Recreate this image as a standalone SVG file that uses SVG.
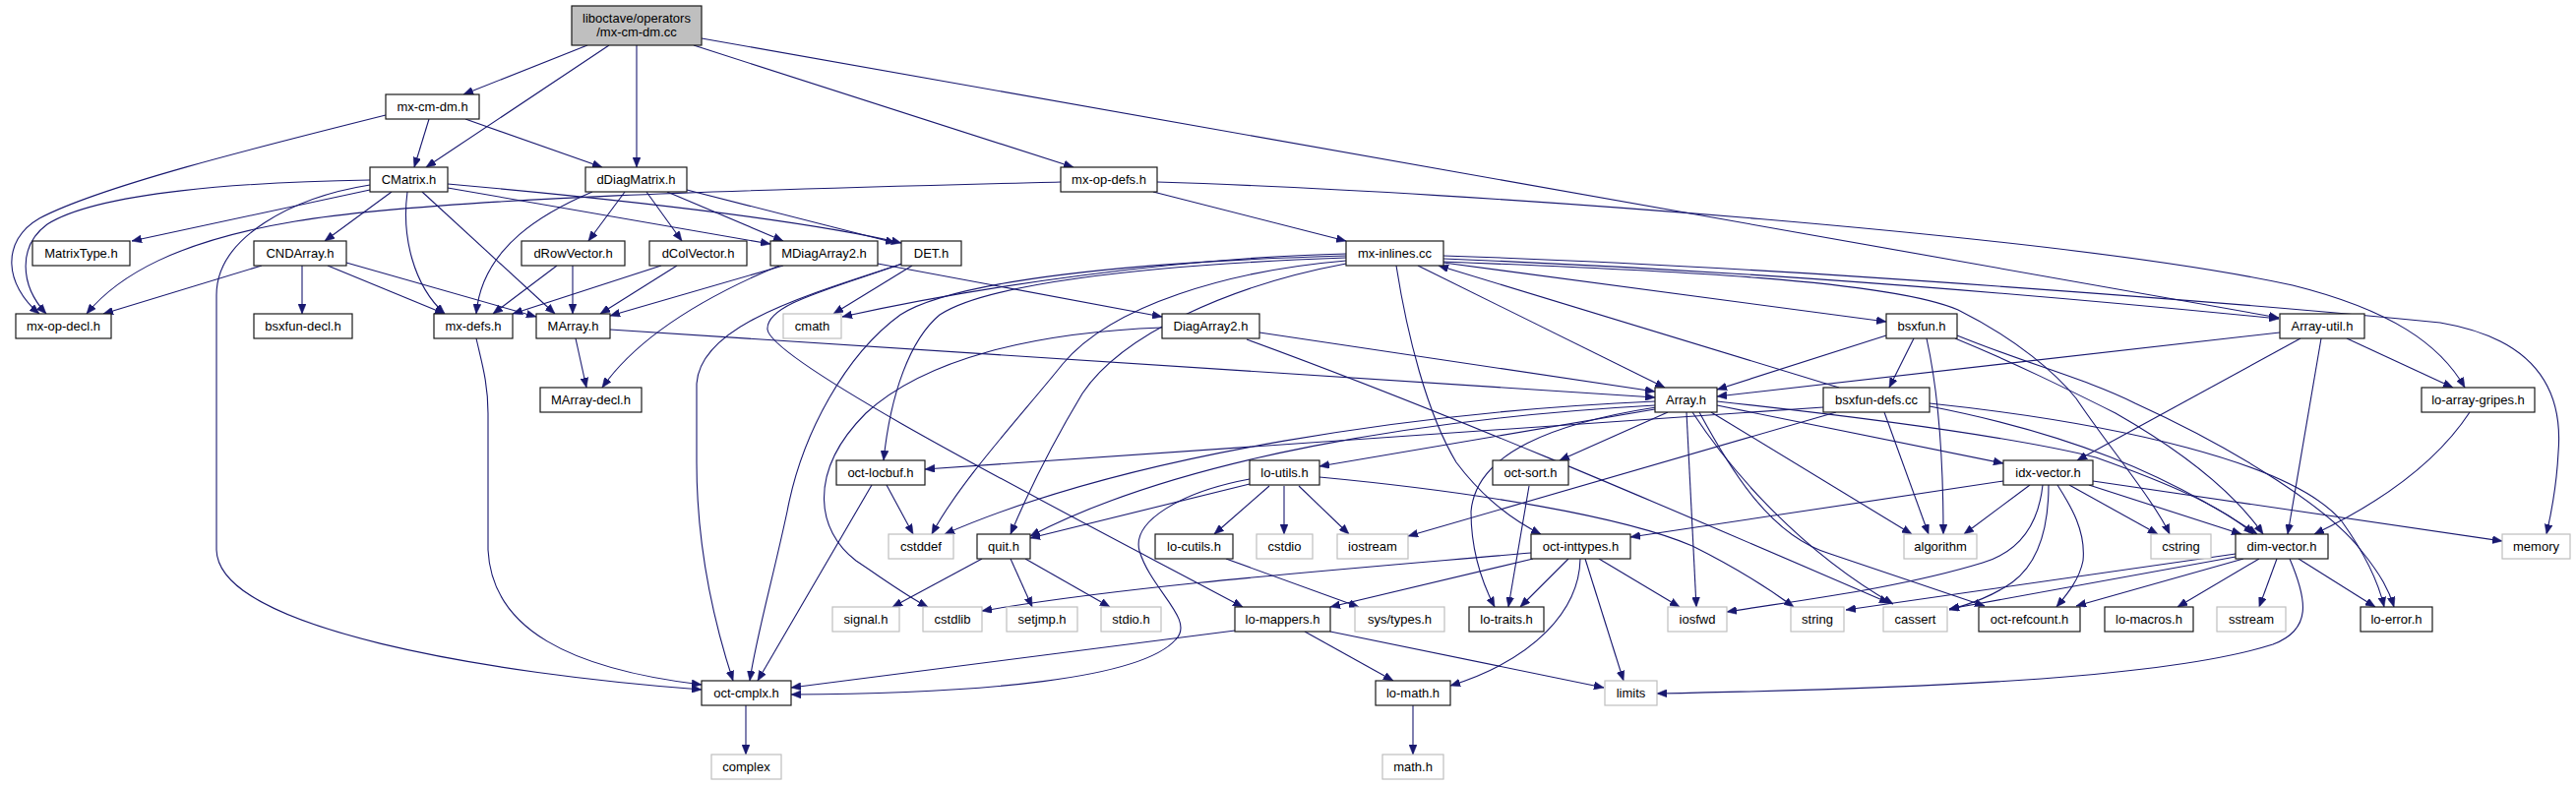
<svg xmlns="http://www.w3.org/2000/svg" width="2618" height="799" viewBox="0 0 2618 799">
<defs>
<style>
.e{fill:none;stroke:#191970;stroke-width:1.1;marker-end:url(#a)}
.n rect{fill:#fff;stroke:#1a1a1a;stroke-width:1.2}
.g rect{fill:#fff;stroke:#bfbfbf;stroke-width:1.2}
.r rect{fill:#bfbfbf;stroke:#1a1a1a;stroke-width:1.2}
text{font-family:"Liberation Sans",Arial,sans-serif;font-size:13px;text-anchor:middle;fill:#000}
</style>
<marker id="a" markerWidth="10" markerHeight="8" refX="10" refY="4" orient="auto" markerUnits="userSpaceOnUse"><path d="M0,0 L10,4 L0,8 z" fill="#191970" stroke="#191970" stroke-width="0.5"/></marker>
</defs>
<rect width="2618" height="799" fill="#fff"/>
<g id="edges">
<path class="e" d="M597,46 L471,96"/>
<path class="e" d="M619,46 L433,170"/>
<path class="e" d="M647,46 L647,170"/>
<path class="e" d="M705,46 L1091,170"/>
<path class="e" d="M713,39 L2316,323"/>
<path class="e" d="M392,117 C260,150 100,190 40,222 C0,245 5,290 40,319"/>
<path class="e" d="M436,121 L421,170"/>
<path class="e" d="M473,121 L612,170"/>
<path class="e" d="M376,183 C250,185 100,195 48,228 C18,250 20,290 47,319"/>
<path class="e" d="M376,193 L134,245"/>
<path class="e" d="M376,188 C300,200 220,240 220,300 L220,559 C222,640 500,685 713,701"/>
<path class="e" d="M398,195 L330,245"/>
<path class="e" d="M414,195 C408,240 420,290 452,319"/>
<path class="e" d="M429,195 L564,319"/>
<path class="e" d="M455,191 L783,248"/>
<path class="e" d="M455,187 C600,200 800,220 916,247"/>
<path class="e" d="M1078,185 C800,192 450,200 300,225 C180,245 120,280 88,319"/>
<path class="e" d="M602,195 C555,215 490,250 484,319"/>
<path class="e" d="M635,195 L598,245"/>
<path class="e" d="M657,195 L693,245"/>
<path class="e" d="M678,195 L796,245"/>
<path class="e" d="M698,193 L910,247"/>
<path class="e" d="M566,270 L501,319"/>
<path class="e" d="M582,270 L582,319"/>
<path class="e" d="M672,270 L521,319"/>
<path class="e" d="M688,270 L610,319"/>
<path class="e" d="M796,270 L620,321"/>
<path class="e" d="M792,270 C720,300 650,340 612,394"/>
<path class="e" d="M892,268 L1181,322"/>
<path class="e" d="M927,270 L847,319"/>
<path class="e" d="M917,268 C820,300 712,330 708,390 L708,470 C708,560 728,640 745,692"/>
<path class="e" d="M917,268 C840,295 778,310 780,335 C785,370 1100,530 1263,617"/>
<path class="e" d="M585,344 L596,394"/>
<path class="e" d="M620,335 L1682,404"/>
<path class="e" d="M484,344 C490,370 496,390 496,420 L496,559 C500,640 580,680 713,696"/>
<path class="e" d="M266,270 L105,319"/>
<path class="e" d="M307,270 L307,319"/>
<path class="e" d="M333,270 L452,319"/>
<path class="e" d="M352,267 L545,322"/>
<path class="e" d="M1172,195 L1368,245"/>
<path class="e" d="M1176,185 C1500,195 2100,240 2330,290 C2430,315 2480,350 2505,394"/>
<path class="e" d="M1368,258 C1200,262 1000,290 856,322"/>
<path class="e" d="M1368,260 C1150,266 970,285 915,320 C860,360 815,440 800,520 C785,590 768,650 762,692"/>
<path class="e" d="M1368,262 C1150,270 1000,290 955,320 C925,345 905,400 898,468"/>
<path class="e" d="M1368,265 C1250,275 1130,310 1080,370 C1040,420 975,490 947,543"/>
<path class="e" d="M1368,268 C1250,290 1140,340 1100,400 C1070,450 1045,500 1027,543"/>
<path class="e" d="M1441,270 L1692,394"/>
<path class="e" d="M1419,270 C1430,340 1450,420 1480,470 C1510,510 1540,530 1566,543"/>
<path class="e" d="M1467,267 L1917,327"/>
<path class="e" d="M1467,263 C1700,272 1950,288 2316,324"/>
<path class="e" d="M1467,260 C1800,270 2300,310 2480,328 C2580,345 2605,400 2600,460 C2598,500 2592,525 2588,543"/>
<path class="e" d="M1467,266 C1700,275 1920,285 1990,315 C2050,345 2090,380 2110,405 C2140,450 2190,510 2205,543"/>
<path class="e" d="M1869,394 L1462,270"/>
<path class="e" d="M1853,414 L940,477"/>
<path class="e" d="M1866,419 L1431,545"/>
<path class="e" d="M1915,419 L1960,543"/>
<path class="e" d="M1961,413 C2100,440 2200,480 2294,543"/>
<path class="e" d="M1961,410 C2150,430 2330,470 2380,530 C2405,565 2418,595 2423,617"/>
<path class="e" d="M1917,341 L1745,396"/>
<path class="e" d="M1945,344 L1920,394"/>
<path class="e" d="M1958,344 C1966,380 1975,440 1975,543"/>
<path class="e" d="M1987,344 C2050,370 2100,395 2150,420 C2220,460 2270,500 2300,543"/>
<path class="e" d="M1989,341 C2060,370 2120,385 2170,410 C2280,460 2370,520 2400,560 C2420,585 2428,600 2433,617"/>
<path class="e" d="M2317,338 L1745,403"/>
<path class="e" d="M2338,344 L2111,468"/>
<path class="e" d="M2359,344 L2325,543"/>
<path class="e" d="M2385,344 L2493,394"/>
<path class="e" d="M1280,338 L1682,398"/>
<path class="e" d="M1267,345 C1500,430 1750,540 1920,613"/>
<path class="e" d="M1181,333 C1050,338 940,365 880,420 C820,480 830,540 870,570 C900,590 920,605 943,617"/>
<path class="e" d="M1682,408 C1450,418 1150,460 960,543"/>
<path class="e" d="M1682,412 C1450,425 1200,465 1047,545"/>
<path class="e" d="M1682,416 L1341,474"/>
<path class="e" d="M1695,419 L1585,468"/>
<path class="e" d="M1683,414 C1580,430 1500,460 1495,520 C1495,560 1505,590 1519,617"/>
<path class="e" d="M1714,419 L1724,617"/>
<path class="e" d="M1720,419 C1760,480 1830,560 1924,614"/>
<path class="e" d="M1727,419 C1760,480 1800,545 1860,563 L2017,616"/>
<path class="e" d="M1739,419 L1943,543"/>
<path class="e" d="M1745,412 L2036,471"/>
<path class="e" d="M1745,408 C1900,425 2050,445 2130,465 C2200,490 2260,515 2290,543"/>
<path class="e" d="M1554,494 L1533,617"/>
<path class="e" d="M1556,562 C1350,580 1150,595 998,621"/>
<path class="e" d="M1558,568 L1352,617"/>
<path class="e" d="M1594,568 L1545,617"/>
<path class="e" d="M1606,568 C1605,620 1560,670 1474,697"/>
<path class="e" d="M1611,568 L1650,692"/>
<path class="e" d="M1625,568 L1707,617"/>
<path class="e" d="M1270,492 L1047,547"/>
<path class="e" d="M1270,487 C1200,500 1150,530 1158,560 C1170,600 1215,630 1195,650 C1160,690 1000,705 804,706"/>
<path class="e" d="M1290,494 L1234,543"/>
<path class="e" d="M1305,494 L1305,543"/>
<path class="e" d="M1320,494 L1371,543"/>
<path class="e" d="M1341,485 C1500,500 1650,525 1720,555 C1770,580 1800,600 1823,617"/>
<path class="e" d="M1246,568 L1381,617"/>
<path class="e" d="M998,568 L907,617"/>
<path class="e" d="M1027,568 L1049,617"/>
<path class="e" d="M1042,568 L1128,617"/>
<path class="e" d="M901,493 L928,543"/>
<path class="e" d="M886,493 L770,692"/>
<path class="e" d="M1255,641 L804,699"/>
<path class="e" d="M1326,642 L1416,692"/>
<path class="e" d="M1352,642 L1630,699"/>
<path class="e" d="M1436,717 L1436,767"/>
<path class="e" d="M758,717 L758,767"/>
<path class="e" d="M2036,489 L1657,546"/>
<path class="e" d="M2063,493 L1996,543"/>
<path class="e" d="M2076,493 C2072,530 2055,560 2015,572 C1930,598 1830,610 1755,622"/>
<path class="e" d="M2082,493 C2082,530 2075,570 2045,592 C2025,606 2005,613 1981,620"/>
<path class="e" d="M2091,493 C2105,515 2120,540 2117,570 C2113,590 2100,605 2090,617"/>
<path class="e" d="M2103,493 L2193,543"/>
<path class="e" d="M2123,493 L2278,543"/>
<path class="e" d="M2127,489 L2543,550"/>
<path class="e" d="M2327,568 C2345,610 2350,640 2310,655 C2200,690 1950,700 1684,705"/>
<path class="e" d="M2336,568 L2414,617"/>
<path class="e" d="M2314,568 L2296,617"/>
<path class="e" d="M2296,568 L2213,617"/>
<path class="e" d="M2280,568 L2110,616"/>
<path class="e" d="M2272,566 L1981,619"/>
<path class="e" d="M2272,563 L1876,620"/>
<path class="e" d="M2510,419 C2470,480 2400,520 2352,543"/>
</g>
<g id="n_root" class="r"><rect x="581" y="6" width="132" height="40"/><text x="647" y="22.5">liboctave/operators</text><text x="647" y="36.5">/mx-cm-dm.cc</text></g>
<g id="n_mxcmdmh" class="n"><rect x="392" y="96" width="95" height="25"/><text x="439.5" y="113">mx-cm-dm.h</text></g>
<g id="n_CMatrix" class="n"><rect x="376" y="170" width="79" height="25"/><text x="415.5" y="187">CMatrix.h</text></g>
<g id="n_dDiagMatrix" class="n"><rect x="595" y="170" width="103" height="25"/><text x="646.5" y="187">dDiagMatrix.h</text></g>
<g id="n_mxopdefs" class="n"><rect x="1078" y="170" width="98" height="25"/><text x="1127" y="187">mx-op-defs.h</text></g>
<g id="n_MatrixType" class="n"><rect x="33" y="245" width="99" height="25"/><text x="82.5" y="262">MatrixType.h</text></g>
<g id="n_CNDArray" class="n"><rect x="258" y="245" width="94" height="25"/><text x="305" y="262">CNDArray.h</text></g>
<g id="n_dRowVector" class="n"><rect x="530" y="245" width="105" height="25"/><text x="582.5" y="262">dRowVector.h</text></g>
<g id="n_dColVector" class="n"><rect x="660" y="245" width="99" height="25"/><text x="709.5" y="262">dColVector.h</text></g>
<g id="n_MDiagArray2" class="n"><rect x="783" y="245" width="109" height="25"/><text x="837.5" y="262">MDiagArray2.h</text></g>
<g id="n_DET" class="n"><rect x="916" y="245" width="61" height="25"/><text x="946.5" y="262">DET.h</text></g>
<g id="n_mxinlines" class="n"><rect x="1368" y="245" width="99" height="25"/><text x="1417.5" y="262">mx-inlines.cc</text></g>
<g id="n_mxopdecl" class="n"><rect x="16" y="319" width="97" height="25"/><text x="64.5" y="336">mx-op-decl.h</text></g>
<g id="n_bsxfundecl" class="n"><rect x="258" y="319" width="100" height="25"/><text x="308" y="336">bsxfun-decl.h</text></g>
<g id="n_mxdefs" class="n"><rect x="441" y="319" width="80" height="25"/><text x="481" y="336">mx-defs.h</text></g>
<g id="n_MArray" class="n"><rect x="545" y="319" width="75" height="25"/><text x="582.5" y="336">MArray.h</text></g>
<g id="n_cmath" class="g"><rect x="796" y="319" width="59" height="25"/><text x="825.5" y="336">cmath</text></g>
<g id="n_DiagArray2" class="n"><rect x="1181" y="319" width="99" height="25"/><text x="1230.5" y="336">DiagArray2.h</text></g>
<g id="n_bsxfun" class="n"><rect x="1917" y="319" width="72" height="25"/><text x="1953" y="336">bsxfun.h</text></g>
<g id="n_Arrayutil" class="n"><rect x="2317" y="319" width="86" height="25"/><text x="2360" y="336">Array-util.h</text></g>
<g id="n_MArraydecl" class="n"><rect x="549" y="394" width="103" height="25"/><text x="600.5" y="411">MArray-decl.h</text></g>
<g id="n_Array" class="n"><rect x="1682" y="394" width="63" height="25"/><text x="1713.5" y="411">Array.h</text></g>
<g id="n_bsxfundefs" class="n"><rect x="1853" y="394" width="108" height="25"/><text x="1907" y="411">bsxfun-defs.cc</text></g>
<g id="n_loarraygripes" class="n"><rect x="2461" y="394" width="115" height="25"/><text x="2518.5" y="411">lo-array-gripes.h</text></g>
<g id="n_octlocbuf" class="n"><rect x="850" y="468" width="90" height="25"/><text x="895" y="485">oct-locbuf.h</text></g>
<g id="n_loutils" class="n"><rect x="1270" y="468" width="71" height="25"/><text x="1305.5" y="485">lo-utils.h</text></g>
<g id="n_octsort" class="n"><rect x="1517" y="468" width="77" height="25"/><text x="1555.5" y="485">oct-sort.h</text></g>
<g id="n_idxvector" class="n"><rect x="2036" y="468" width="91" height="25"/><text x="2081.5" y="485">idx-vector.h</text></g>
<g id="n_cstddef" class="g"><rect x="903" y="543" width="66" height="25"/><text x="936" y="560">cstddef</text></g>
<g id="n_quit" class="n"><rect x="993" y="543" width="54" height="25"/><text x="1020" y="560">quit.h</text></g>
<g id="n_locutils" class="n"><rect x="1174" y="543" width="79" height="25"/><text x="1213.5" y="560">lo-cutils.h</text></g>
<g id="n_cstdio" class="g"><rect x="1277" y="543" width="57" height="25"/><text x="1305.5" y="560">cstdio</text></g>
<g id="n_iostream" class="g"><rect x="1359" y="543" width="72" height="25"/><text x="1395" y="560">iostream</text></g>
<g id="n_octinttypes" class="n"><rect x="1556" y="543" width="101" height="25"/><text x="1606.5" y="560">oct-inttypes.h</text></g>
<g id="n_algorithm" class="g"><rect x="1935" y="543" width="74" height="25"/><text x="1972" y="560">algorithm</text></g>
<g id="n_cstring" class="g"><rect x="2186" y="543" width="61" height="25"/><text x="2216.5" y="560">cstring</text></g>
<g id="n_dimvector" class="n"><rect x="2272" y="543" width="94" height="25"/><text x="2319" y="560">dim-vector.h</text></g>
<g id="n_memory" class="g"><rect x="2543" y="543" width="69" height="25"/><text x="2577.5" y="560">memory</text></g>
<g id="n_signal" class="g"><rect x="846" y="617" width="68" height="25"/><text x="880" y="634">signal.h</text></g>
<g id="n_cstdlib" class="g"><rect x="938" y="617" width="60" height="25"/><text x="968" y="634">cstdlib</text></g>
<g id="n_setjmp" class="g"><rect x="1023" y="617" width="72" height="25"/><text x="1059" y="634">setjmp.h</text></g>
<g id="n_stdio" class="g"><rect x="1119" y="617" width="61" height="25"/><text x="1149.5" y="634">stdio.h</text></g>
<g id="n_lomappers" class="n"><rect x="1255" y="617" width="97" height="25"/><text x="1303.5" y="634">lo-mappers.h</text></g>
<g id="n_systypes" class="g"><rect x="1377" y="617" width="91" height="25"/><text x="1422.5" y="634">sys/types.h</text></g>
<g id="n_lotraits" class="n"><rect x="1493" y="617" width="76" height="25"/><text x="1531" y="634">lo-traits.h</text></g>
<g id="n_iosfwd" class="g"><rect x="1695" y="617" width="60" height="25"/><text x="1725" y="634">iosfwd</text></g>
<g id="n_string" class="g"><rect x="1820" y="617" width="54" height="25"/><text x="1847" y="634">string</text></g>
<g id="n_cassert" class="g"><rect x="1914" y="617" width="65" height="25"/><text x="1946.5" y="634">cassert</text></g>
<g id="n_octrefcount" class="n"><rect x="2011" y="617" width="103" height="25"/><text x="2062.5" y="634">oct-refcount.h</text></g>
<g id="n_lomacros" class="n"><rect x="2139" y="617" width="90" height="25"/><text x="2184" y="634">lo-macros.h</text></g>
<g id="n_sstream" class="g"><rect x="2253" y="617" width="70" height="25"/><text x="2288" y="634">sstream</text></g>
<g id="n_loerror" class="n"><rect x="2399" y="617" width="73" height="25"/><text x="2435.5" y="634">lo-error.h</text></g>
<g id="n_octcmplx" class="n"><rect x="713" y="692" width="91" height="25"/><text x="758.5" y="709">oct-cmplx.h</text></g>
<g id="n_lomath" class="n"><rect x="1398" y="692" width="76" height="25"/><text x="1436" y="709">lo-math.h</text></g>
<g id="n_limits" class="g"><rect x="1631" y="692" width="53" height="25"/><text x="1657.5" y="709">limits</text></g>
<g id="n_complex" class="g"><rect x="723" y="767" width="71" height="25"/><text x="758.5" y="784">complex</text></g>
<g id="n_mathh" class="g"><rect x="1405" y="767" width="62" height="25"/><text x="1436" y="784">math.h</text></g>
</svg>
